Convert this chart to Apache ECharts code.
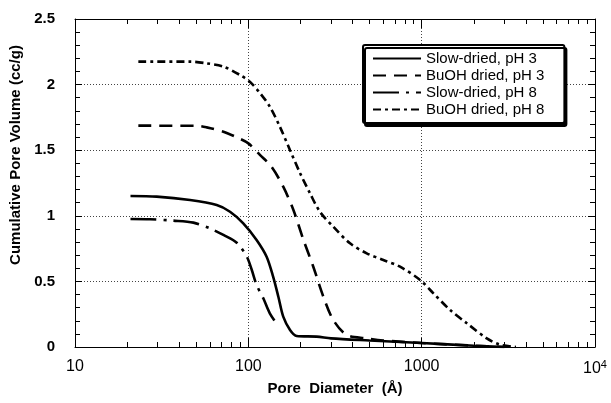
<!DOCTYPE html>
<html><head><meta charset="utf-8">
<script src="https://cdn.jsdelivr.net/npm/echarts@6/dist/echarts.min.js"></script>
<style>html,body{margin:0;padding:0;background:#fff}#c{width:611px;height:403px}</style>
</head><body><div id="c"></div>
<script>
// ---- data ----
const seriesNames = ['Slow-dried, pH 3', 'BuOH dried, pH 3', 'Slow-dried, pH 8', 'BuOH dried, pH 8'];

const slow3Diam = [20.9, 29.6, 46.1, 65.7, 78.4, 93.5, 111.6, 127.5, 139, 149, 159, 174, 190, 248, 300, 500, 1000, 2000, 3000];
const slow3Vol  = [1.151, 1.146, 1.120, 1.082, 1.031, 0.943, 0.816, 0.688, 0.536, 0.383, 0.231, 0.130, 0.084, 0.079, 0.066, 0.05, 0.03, 0.01, 0];

const buoh3Diam = [23.2, 50.4, 57.5, 71.8, 85.7, 100, 117, 136, 159, 182, 208, 237, 271, 309, 370, 480, 600, 1000, 2000, 3000];
const buoh3Vol  = [1.687, 1.686, 1.674, 1.641, 1.598, 1.552, 1.463, 1.374, 1.222, 1.044, 0.816, 0.612, 0.383, 0.206, 0.091, 0.066, 0.05, 0.03, 0.01, 0];

const slow8Diam = [20.9, 27.1, 36.9, 48.2, 60.1, 71.8, 85.7, 98, 104.7, 111.6, 122, 133, 149];
const slow8Vol  = [0.976, 0.974, 0.963, 0.948, 0.904, 0.854, 0.795, 0.688, 0.587, 0.473, 0.371, 0.257, 0.160];

const buoh8Diam = [23.2, 46, 57.5, 71.8, 89.6, 102, 117, 133, 152, 174, 199, 227, 259, 309, 386, 482, 601, 750, 979, 1169, 1459, 1822, 2376, 2800, 3500];
const buoh8Vol  = [2.175, 2.175, 2.162, 2.137, 2.073, 2.022, 1.934, 1.832, 1.679, 1.50, 1.324, 1.171, 1.03, 0.917, 0.790, 0.714, 0.663, 0.612, 0.511, 0.409, 0.282, 0.181, 0.066, 0.02, 0];

const xMajorTicks = [10, 100, 1000, 10000];
const xTickLabels = ['10', '100', '1000', '10{sup|4}'];
const xMinorTicks = [20,30,40,50,60,70,80,90, 200,300,400,500,600,700,800,900, 2000,3000,4000,5000,6000,7000,8000,9000];
const yMin = 0, yMax = 2.5, yStep = 0.5;

// ---- chart ----
const pairs = (d, v) => d.map((x, i) => [x, v[i]]);
const chart = echarts.init(document.getElementById('c'), null, {renderer: 'canvas'});
const font = 'Liberation Sans, Arial, Helvetica, sans-serif';
const logMin = Math.log10(xMajorTicks[0]), logMax = Math.log10(xMajorTicks[xMajorTicks.length - 1]);
const minorLog = xMinorTicks.map(v => Math.log10(v));
const axisLine = {show: true, lineStyle: {color: '#000', width: 1}};
const gridDot = {show: true, lineStyle: {color: '#444', width: 1, type: [1, 2]}};

const xLabelFor = v => {
  const k = xMajorTicks.findIndex(t => Math.abs(Math.log10(t) - Math.log10(v)) < 1e-6);
  return k >= 0 ? xTickLabels[k] : '';
};

const lineStyles = [
  {type: 'solid', width: 2.6},
  {type: [13, 8], width: 2.6},
  {type: [26, 7, 3, 7], width: 2.6},
  {type: [8, 4, 3, 4], width: 2.6}
];
const dataSets = [pairs(slow3Diam, slow3Vol), pairs(buoh3Diam, buoh3Vol), pairs(slow8Diam, slow8Vol), pairs(buoh8Diam, buoh8Vol)];

chart.setOption({
  animation: false,
  backgroundColor: '#fff',
  textStyle: {fontFamily: font, color: '#000'},
  grid: {left: 75, right: 16, top: 19, bottom: 56, containLabel: false},
  legend: {
    orient: 'vertical', left: 363, top: 45,
    data: seriesNames,
    itemWidth: 48, itemHeight: 14, itemGap: 2,
    padding: [6, 20, 6, 9],
    backgroundColor: '#fff', borderColor: '#000', borderWidth: 2, borderRadius: 2,
    shadowColor: '#000', shadowOffsetX: 2, shadowOffsetY: 3, shadowBlur: 0,
    itemStyle: {color: 'rgba(0,0,0,0)', borderWidth: 0, opacity: 0},
    textStyle: {fontFamily: font, fontSize: 15, color: '#000'},
    selectedMode: false
  },
  xAxis: [
    {
      type: 'log', logBase: 10, min: xMajorTicks[0], max: xMajorTicks[xMajorTicks.length - 1],
      position: 'bottom',
      name: 'Pore  Diameter  (Å)', nameLocation: 'middle', nameGap: 32,
      nameTextStyle: {fontFamily: font, fontSize: 15, fontWeight: 'bold', color: '#000'},
      axisLine: axisLine,
      axisTick: {show: true, inside: true, length: 9, lineStyle: {color: '#000'}},
      axisLabel: {margin: 12, fontSize: 16, color: '#000', fontFamily: font, formatter: xLabelFor,
        rich: {sup: {fontSize: 11, verticalAlign: 'top', padding: [0, 0, 8, 0]}}},
      splitLine: gridDot, minorTick: {show: false}
    },
    {
      type: 'value', min: logMin, max: logMax, position: 'bottom', gridIndex: 0,
      axisLine: {show: false}, axisLabel: {show: false}, splitLine: {show: false},
      axisTick: {show: true, inside: true, length: 5, customValues: minorLog, lineStyle: {color: '#000'}}
    },
    {
      type: 'log', logBase: 10, min: xMajorTicks[0], max: xMajorTicks[xMajorTicks.length - 1], position: 'top',
      axisLine: axisLine, axisLabel: {show: false}, splitLine: {show: false},
      axisTick: {show: true, inside: true, length: 9, lineStyle: {color: '#000'}}
    },
    {
      type: 'value', min: logMin, max: logMax, position: 'top',
      axisLine: {show: false}, axisLabel: {show: false}, splitLine: {show: false},
      axisTick: {show: true, inside: true, length: 5, customValues: minorLog, lineStyle: {color: '#000'}}
    }
  ],
  yAxis: [
    {
      type: 'value', min: yMin, max: yMax, interval: yStep, position: 'left',
      name: 'Cumulative Pore Volume (cc/g)', nameLocation: 'middle', nameGap: 34,
      nameTextStyle: {fontFamily: font, fontSize: 15, fontWeight: 'bold', color: '#000', padding: [0, 0, 0, 56]},
      axisLine: axisLine,
      axisTick: {show: true, inside: true, length: 7, lineStyle: {color: '#000'}},
      minorTick: {show: true, splitNumber: 5, length: 5, lineStyle: {color: '#000'}},
      axisLabel: {margin: 20, fontSize: 15, fontWeight: 'bold', color: '#000', fontFamily: font},
      splitLine: gridDot
    },
    {
      type: 'value', min: yMin, max: yMax, interval: yStep, position: 'right',
      axisLine: axisLine, axisLabel: {show: false}, splitLine: {show: false},
      axisTick: {show: true, inside: true, length: 7, lineStyle: {color: '#000'}},
      minorTick: {show: true, splitNumber: 5, length: 5, lineStyle: {color: '#000'}}
    }
  ],
  series: seriesNames.map((n, i) => ({
    name: n, type: 'line', xAxisIndex: 0, yAxisIndex: 0,
    data: dataSets[i], smooth: 0.3, symbol: 'none', showSymbol: false,
    lineStyle: Object.assign({color: '#000', cap: 'butt'}, lineStyles[i]),
    itemStyle: {color: '#000'}
  }))
});
</script></body></html>
